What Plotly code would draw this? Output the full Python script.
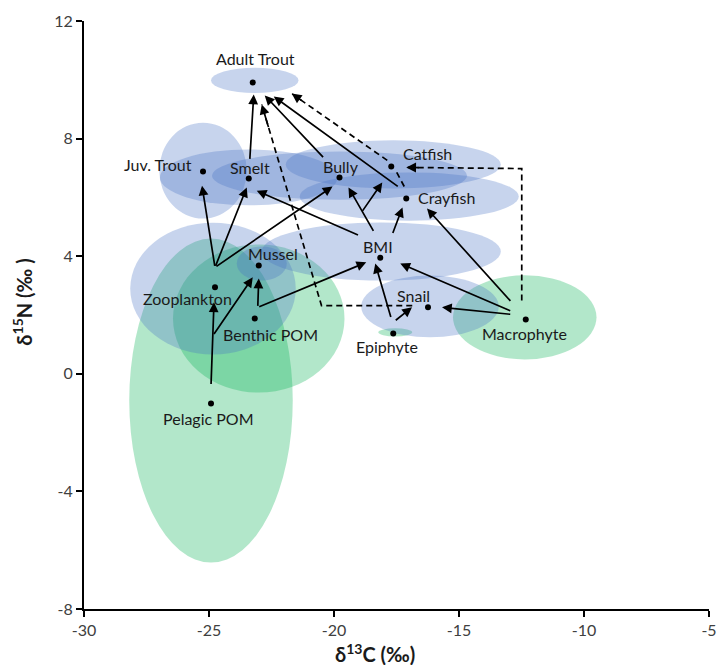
import plotly.graph_objects as go

# ---------------- data ----------------
species = ["Adult Trout", "Juv. Trout", "Smelt", "Bully", "Catfish", "Crayfish", "BMI",
           "Mussel", "Zooplankton", "Benthic POM", "Pelagic POM", "Snail", "Epiphyte", "Macrophyte"]
d13C = [-23.25, -25.24, -23.41, -19.78, -17.71, -17.11, -18.15,
        -23.01, -24.76, -23.17, -24.92, -16.24, -17.63, -12.33]
d15N = [9.91, 6.88, 6.64, 6.68, 7.05, 5.96, 3.95,
        3.68, 2.94, 1.88, -1.01, 2.26, 1.37, 1.85]

# label anchor positions (data units)
label_x = [-23.13, -27.03, -23.37, -19.74, -16.28, -15.52, -18.23,
           -22.45, -25.88, -22.53, -25.04, -16.83, -17.87, -12.37]
label_y = [10.72, 7.12, 7.02, 7.05, 7.49, 5.99, 4.33,
           4.09, 2.56, 1.34, -1.52, 2.66, 0.93, 1.37]

# standard ellipses: centre, half-widths, group
ell_name = ["Pelagic POM", "Benthic POM", "Macrophyte", "Epiphyte",
            "Zooplankton", "Mussel", "Juv. Trout", "Smelt", "Bully", "Catfish",
            "Crayfish", "BMI", "Snail", "Adult Trout"]
ell_cx = [-24.92, -23.01, -12.37, -17.55, -24.84, -22.89, -25.24, -23.41, -19.78, -17.63,
          -16.99, -18.11, -16.16, -23.17]
ell_cy = [-0.91, 1.88, 1.92, 1.41, 2.90, 3.75, 6.91, 6.68, 6.74, 7.12,
          6.03, 4.16, 2.29, 9.98]
ell_rx = [3.27, 3.43, 2.87, 0.68, 3.31, 1.00, 1.75, 3.55, 5.10, 4.30,
          4.38, 4.78, 2.75, 1.75]
ell_ry = [5.51, 2.52, 1.43, 0.14, 2.24, 0.58, 1.63, 0.95, 0.82, 0.82,
          0.82, 0.99, 1.05, 0.43]
ell_group = ["source", "source", "source", "source", "consumer", "consumer", "consumer",
             "consumer", "consumer", "consumer", "consumer", "consumer", "consumer", "consumer"]

# solid arrows: tail (x, y) -> head (x, y)
arr_tail_x = [-23.37, -20.38, -17.39, -24.76, -24.76, -24.76, -24.92, -24.84, -23.05, -23.05,
              -18.98, -18.39, -18.90, -17.67, -17.71, -17.59, -12.89, -12.89, -12.89]
arr_tail_y = [7.26, 7.32, 6.34, 3.62, 3.62, 3.62, -0.40, 1.30, 2.26, 2.26,
              4.70, 4.81, 5.49, 4.74, 1.88, 1.78, 2.43, 2.12, 2.02]
arr_head_x = [-23.21, -22.77, -22.41, -25.28, -23.49, -20.06, -24.80, -23.25, -23.01, -18.71,
              -23.09, -19.42, -18.07, -17.26, -18.35, -16.88, -16.28, -17.35, -15.68]
arr_head_y = [9.50, 9.47, 9.43, 6.40, 6.34, 6.37, 2.43, 3.28, 3.24, 3.79,
              6.23, 6.34, 6.51, 5.66, 3.75, 2.26, 5.62, 3.75, 2.26]

# dashed paths (last point carries the arrow head)
dash_paths_x = [[-12.49, -12.49, -17.11],
                [-16.87, -20.50, -22.89],
                [-17.19, -17.51],
                [-17.87, -21.69]]
dash_paths_y = [[2.49, 6.98, 7.02],
                [2.32, 2.32, 9.16],
                [6.37, 6.88],
                [7.26, 9.53]]

x_ticks = [-30, -25, -20, -15, -10, -5]
y_ticks = [-8, -4, 0, 4, 8, 12]
x_title = "<b>δ<sup>13</sup>C (‰)</b>"
y_title = "<b>δ<sup>15</sup>N (‰ )</b>"

# ---------------- styling ----------------
FILL = {"source": "rgba(0,176,80,0.30)", "consumer": "rgba(68,114,196,0.30)"}
FONT = "Lato"

fig = go.Figure()

shapes = []
for cx, cy, rx, ry, g in zip(ell_cx, ell_cy, ell_rx, ell_ry, ell_group):
    shapes.append(dict(type="circle", xref="x", yref="y",
                       x0=cx - rx, x1=cx + rx, y0=cy - ry, y1=cy + ry,
                       fillcolor=FILL[g], line=dict(width=0), layer="below"))

# dashed connector lines
for px, py in zip(dash_paths_x, dash_paths_y):
    fig.add_trace(go.Scatter(x=px, y=py, mode="lines",
                             line=dict(color="black", width=1.7, dash="6px,4px"),
                             hoverinfo="skip", showlegend=False))

# species means
fig.add_trace(go.Scatter(x=d13C, y=d15N, mode="markers",
                         marker=dict(color="black", size=6),
                         text=species, hoverinfo="text", showlegend=False))

annotations = []
for tx, ty, hx, hy in zip(arr_tail_x, arr_tail_y, arr_head_x, arr_head_y):
    annotations.append(dict(x=hx, y=hy, ax=tx, ay=ty, xref="x", yref="y",
                            axref="x", ayref="y", text="", showarrow=True,
                            arrowhead=2, arrowsize=1.15, arrowwidth=1.7,
                            arrowcolor="black", standoff=0, startstandoff=0))
# arrow heads for dashed paths
for px, py in zip(dash_paths_x, dash_paths_y):
    hx, hy = px[-1], py[-1]
    sx, sy = px[-2], py[-2]
    t = 0.12
    annotations.append(dict(x=hx, y=hy, ax=hx + (sx - hx) * t, ay=hy + (sy - hy) * t,
                            xref="x", yref="y", axref="x", ayref="y", text="",
                            showarrow=True, arrowhead=2, arrowsize=1.15, arrowwidth=1.7,
                            arrowcolor="black", standoff=0))

for name, lx, ly in zip(species, label_x, label_y):
    annotations.append(dict(x=lx, y=ly, xref="x", yref="y", text=name, showarrow=False,
                            font=dict(family=FONT, size=16, color="#1a1a1a"),
                            xanchor="center", yanchor="middle"))

# axis titles
annotations.append(dict(x=0.466, y=-0.0753, xref="paper", yref="paper", text=x_title,
                        showarrow=False, xanchor="center", yanchor="middle",
                        font=dict(family=FONT, size=20, color="#1a1a1a")))
annotations.append(dict(x=-0.0983, y=0.522, xref="paper", yref="paper", text=y_title,
                        showarrow=False, xanchor="center", yanchor="middle", textangle=-90,
                        font=dict(family=FONT, size=20, color="#1a1a1a")))

# the html page adds an 8px body margin, so the figure is sized to fit the window
fig.update_layout(
    width=719, height=657,
    margin=dict(l=75.5, r=18, t=12.7, b=56.3, autoexpand=False),
    paper_bgcolor="white", plot_bgcolor="white",
    shapes=shapes, annotations=annotations,
    font=dict(family=FONT, size=15, color="#404040"),
    xaxis=dict(range=[-30, -5], tickvals=x_ticks, ticktext=[str(v) for v in x_ticks],
               automargin=False,
               showgrid=False, zeroline=False, showline=True, linecolor="black", linewidth=2,
               ticks="outside", ticklen=6, tickwidth=2, tickcolor="black",
               tickfont=dict(family=FONT, size=16, color="#404040")),
    yaxis=dict(range=[-8, 12], tickvals=y_ticks, ticktext=[str(v) for v in y_ticks],
               automargin=False,
               showgrid=False, zeroline=False, showline=True, linecolor="black", linewidth=2,
               ticks="outside", ticklen=6, tickwidth=2, tickcolor="black",
               tickfont=dict(family=FONT, size=16, color="#404040")),
)

fig.write_html("out.html")
